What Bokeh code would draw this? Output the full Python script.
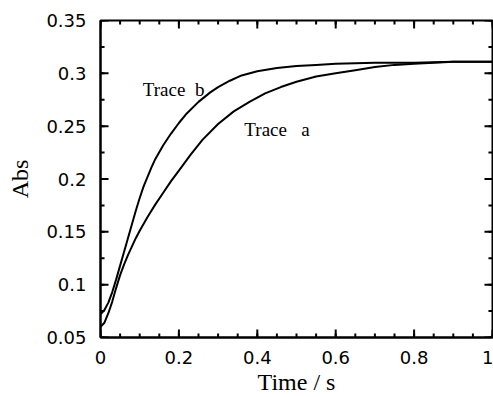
from bokeh.plotting import figure
from bokeh.models import Range1d, FixedTicker, ColumnDataSource
from bokeh.core.properties import value
from bokeh.embed import file_html
from bokeh.resources import INLINE
import numpy as np

# ---- data ----
t_b = [0.0, 0.01, 0.02, 0.03, 0.04, 0.05, 0.06, 0.07, 0.08, 0.09, 0.10, 0.11, 0.12, 0.13, 0.14,
       0.16, 0.18, 0.20, 0.22, 0.25, 0.28, 0.30, 0.33, 0.36, 0.40, 0.45, 0.50, 0.55, 0.60, 0.70,
       0.80, 0.90, 1.00]
abs_b = [0.072, 0.076, 0.083, 0.093, 0.105, 0.118, 0.131, 0.144, 0.157, 0.170, 0.182, 0.193, 0.202,
         0.211, 0.219, 0.232, 0.243, 0.253, 0.262, 0.273, 0.282, 0.287, 0.293, 0.298, 0.302, 0.305,
         0.307, 0.308, 0.309, 0.310, 0.310, 0.311, 0.311]

t_a = [0.0, 0.01, 0.02, 0.03, 0.04, 0.05, 0.06, 0.07, 0.08, 0.09, 0.10, 0.12, 0.14, 0.16, 0.18,
       0.20, 0.23, 0.26, 0.30, 0.34, 0.38, 0.42, 0.46, 0.50, 0.55, 0.60, 0.65, 0.70, 0.75, 0.80,
       0.85, 0.90, 1.00]
abs_a = [0.060, 0.064, 0.073, 0.084, 0.097, 0.109, 0.119, 0.128, 0.136, 0.144, 0.151, 0.164, 0.176,
         0.187, 0.198, 0.208, 0.223, 0.237, 0.252, 0.264, 0.273, 0.281, 0.287, 0.292, 0.297, 0.300,
         0.303, 0.306, 0.308, 0.309, 0.310, 0.311, 0.311]

label_texts = ["Trace\u00a0\u00a0b", "Trace\u00a0\u00a0\u00a0a"]
label_x = [0.108, 0.367]
label_y = [0.285, 0.247]

x_range = (0, 1)
y_range = (0.05, 0.35)
x_ticks = [0, 0.2, 0.4, 0.6, 0.8, 1]
x_tick_labels = ["0", "0.2", "0.4", "0.6", "0.8", "1"]
y_ticks = [0.05, 0.1, 0.15, 0.2, 0.25, 0.3, 0.35]
y_tick_labels = ["0.05", "0.1", "0.15", "0.2", "0.25", "0.3", "0.35"]

x_minor = [round(v, 3) for v in np.arange(0, 1.0001, 0.05)]
y_minor = [round(v, 4) for v in np.arange(0.05, 0.3501, 0.025)]

# ---- figure ----
p = figure(width=493, height=397, output_backend="svg", toolbar_location=None,
           x_range=Range1d(*x_range), y_range=Range1d(*y_range),
           x_axis_label="Time / s", y_axis_label="Abs",
           min_border_left=100, min_border_right=1, min_border_top=20, min_border_bottom=58)
p.background_fill_color = "white"
p.border_fill_color = "white"
p.xgrid.visible = False
p.ygrid.visible = False
p.outline_line_color = "black"
p.outline_line_width = 2

xt = FixedTicker(ticks=x_ticks, minor_ticks=x_minor)
yt = FixedTicker(ticks=y_ticks, minor_ticks=y_minor)

xa = p.xaxis[0]
ya = p.yaxis[0]
xa.ticker = xt
ya.ticker = yt
xa.major_label_overrides = dict(zip(x_ticks, x_tick_labels))
ya.major_label_overrides = dict(zip(y_ticks, y_tick_labels))
for ax in (xa, ya):
    ax.axis_line_color = "black"
    ax.axis_line_width = 2
    ax.major_tick_in = 0
    ax.major_tick_out = 0
    ax.minor_tick_in = 0
    ax.minor_tick_out = 0
    ax.major_label_text_font = "DejaVu Sans"
    ax.major_label_text_font_size = "18px"
    ax.major_label_text_color = "black"
    ax.axis_label_text_font = "Liberation Serif"
    ax.axis_label_text_font_size = "24px"
    ax.axis_label_text_font_style = "normal"
    ax.axis_label_text_color = "black"
xa.major_label_standoff = 13
xa.axis_label_standoff = 2
ya.major_label_standoff = 14
ya.axis_label_standoff = 10

# inward ticks on all four frame edges, drawn as short segments
# (tick lengths expressed as a fraction of each axis span: ~8 px major, ~4 px minor)
x_span = x_range[1] - x_range[0]
y_span = y_range[1] - y_range[0]
xm_len, xn_len = 0.0205 * x_span, 0.0103 * x_span   # horizontal ticks on left/right edges
ym_len, yn_len = 0.0252 * y_span, 0.0126 * y_span   # vertical ticks on bottom/top edges
tick_style = dict(line_color="black", line_width=2)

def vticks(xs, y0, dy):
    p.segment(x0=xs, y0=[y0] * len(xs), x1=xs, y1=[y0 + dy] * len(xs), **tick_style)

def hticks(ys, x0, dx):
    p.segment(x0=[x0] * len(ys), y0=ys, x1=[x0 + dx] * len(ys), y1=ys, **tick_style)

vticks(x_ticks, y_range[0], ym_len)
vticks(x_minor, y_range[0], yn_len)
vticks(x_ticks, y_range[1], -ym_len)
vticks(x_minor, y_range[1], -yn_len)
hticks(y_ticks, x_range[0], xm_len)
hticks(y_minor, x_range[0], xn_len)
hticks(y_ticks, x_range[1], -xm_len)
hticks(y_minor, x_range[1], -xn_len)

p.line(t_b, abs_b, line_color="black", line_width=2)
p.line(t_a, abs_a, line_color="black", line_width=2)

src = ColumnDataSource(dict(x=label_x, y=label_y, text=label_texts))
p.text(x="x", y="y", text="text", source=src, text_font=value("Liberation Serif"),
       text_font_size="19px", text_color="black", text_align="left", text_baseline="alphabetic")

open("out.html", "w").write(file_html(p, INLINE))
